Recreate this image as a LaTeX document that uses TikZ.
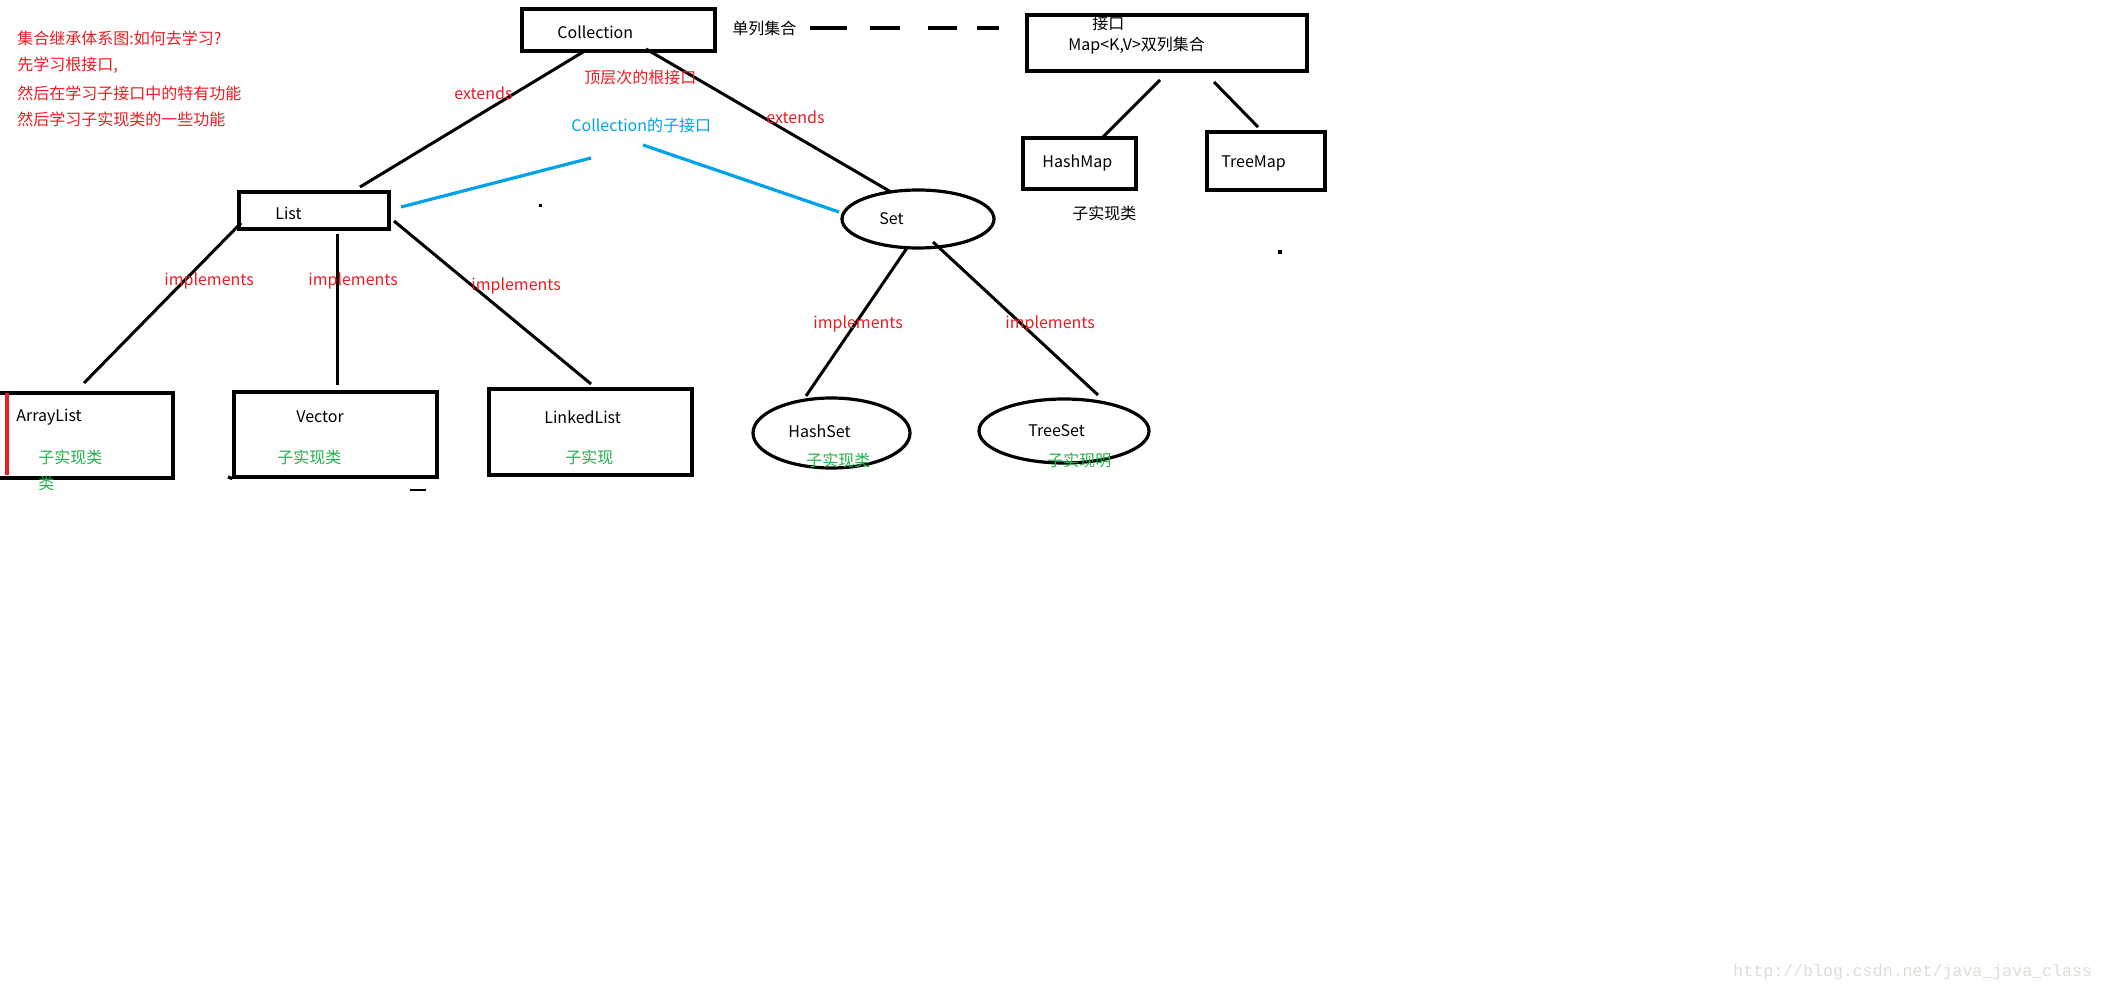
\documentclass[tikz,border=0pt]{standalone}
\usepackage{fontspec}
\setmainfont{Noto Sans CJK SC}
\newfontfamily\wmfont{Liberation Mono}
\usetikzlibrary{shapes.geometric,fit}
\definecolor{pred}{RGB}{237,28,36}
\definecolor{pblue}{RGB}{0,162,232}
\definecolor{pgreen}{RGB}{34,177,76}
\definecolor{wmgrey}{RGB}{222,220,214}
\begin{document}
\begin{tikzpicture}[x=0.5pt,y=-0.5pt,
  boxst/.style={draw=black,line width=1.6pt,rectangle,inner sep=0pt},
  ellst/.style={draw=black,line width=1.6pt,ellipse,inner sep=0pt},
  conn/.style={draw=black,line width=1.5pt},
  bconn/.style={draw=pblue,line width=1.6pt},
  lbl/.style={anchor=west,inner sep=0pt,font=\fontsize{8pt}{10pt}\selectfont},
  rtxt/.style={lbl,text=pred},
  gtxt/.style={lbl,text=pgreen},
  btxt/.style={lbl,text=pblue}]
\useasboundingbox[fill=white] (0,0) rectangle (2104,984);

% boxes
\node[boxst,fit={(522,9)(715,51)}] (coll) {};
\node[boxst,fit={(1027,15)(1307,71)}] (map) {};
\node[boxst,fit={(1023,138)(1136,189)}] (hashmap) {};
\node[boxst,fit={(1207,132)(1325,190)}] (treemap) {};
\node[boxst,fit={(239,192)(389,229)}] (list) {};
\node[boxst,fit={(234,392)(437,477)}] (vector) {};
\node[boxst,fit={(489,389)(692,475)}] (linked) {};
\node[ellst,minimum width=76pt,minimum height=29pt] (set) at (918,219) {};
\node[ellst,minimum width=78.5pt,minimum height=35pt] (hashset) at (831.5,433) {};
\node[ellst,minimum width=85pt,minimum height=32pt] (treeset) at (1064,431) {};

% ArrayList box (left edge off canvas)
\coordinate (alTL) at (0,393);
\coordinate (alBL) at (0,478);
\draw[line width=1.6pt] (alTL) -- (173,393) -- (173,478) -- (alBL);
\draw[draw=pred,line width=1.6pt] (7,393) -- (7,475);
% Vector bottom extension
\draw[line width=1.6pt] (228,477) -- (vector.south west);

% connector end points
\coordinate (c1a) at (583,52);  \coordinate (c1b) at (360,187);
\coordinate (c2a) at (646,49);  \coordinate (c2b) at (891,192);
\coordinate (b1a) at (591,158); \coordinate (b1b) at (401,207);
\coordinate (b2a) at (643,145); \coordinate (b2b) at (839,212);
\coordinate (l1a) at (241,223); \coordinate (l1b) at (84,383);
\coordinate (l2a) at (337,234); \coordinate (l2b) at (337,385);
\coordinate (l3a) at (394,221); \coordinate (l3b) at (591,384);
\coordinate (s1a) at (907,248); \coordinate (s1b) at (806,396);
\coordinate (s2a) at (933,242); \coordinate (s2b) at (1098,395);
\coordinate (m1a) at (1160,80); \coordinate (m1b) at (1103,137);
\coordinate (m2a) at (1214,82); \coordinate (m2b) at (1258,127);
\coordinate (dA) at (810,28);   \coordinate (dB) at (999,28);

\draw[conn] (c1a) -- (c1b);
\draw[conn] (c2a) -- (c2b);
\draw[bconn] (b1a) -- (b1b);
\draw[bconn] (b2a) -- (b2b);
\draw[conn] (l1a) -- (l1b);
\draw[conn] (l2a) -- (l2b);
\draw[conn] (l3a) -- (l3b);
\draw[conn] (s1a) -- (s1b);
\draw[conn] (s2a) -- (s2b);
\draw[conn] (m1a) -- (m1b);
\draw[conn] (m2a) -- (m2b);
\draw[line width=1.7pt,dash pattern=on 18.5pt off 11.5pt on 15pt off 14pt on 14.5pt off 10pt on 11pt off 10pt] (dA) -- (dB);

% stray marks
\fill (538.5,204.5) rectangle (541.5,207.5);
\fill (1278,250) rectangle (1282,254);
\draw[line width=0.8pt] (410,490) -- (426,490);

% texts
\node[rtxt] (t1) at (17,38) {集合继承体系图:如何去学习?};
\node[rtxt] (t2) at (17,65) {先学习根接口,};
\node[rtxt] (t3) at (17,93) {然后在学习子接口中的特有功能};
\node[rtxt] (t4) at (17,119) {然后学习子实现类的一些功能};

\node[lbl] (tcoll) at (557,32) {Collection};
\node[lbl] (tsingle) at (732,28) {单列集合};
\node[rtxt] (ext1) at (454,93) {extends};
\node[rtxt] (top) at (584,77) {顶层次的根接口};
\node[btxt] (sub) at (571,125) {Collection的子接口};
\node[rtxt] (ext2) at (766,117) {extends};
\node[lbl] (tif) at (1092,23) {接口};
\node[lbl] (tmap) at (1068,46) {Map<K,V>双列集合};
\node[lbl] (thm) at (1042,163) {HashMap};
\node[lbl] (ttm) at (1221,163) {TreeMap};
\node[lbl] (tsub) at (1072,213) {子实现类};
\node[lbl] (tlist) at (275,213) {List};
\node[lbl] (tset) at (879,219) {Set};
\node[rtxt] (i1) at (164,281) {implements};
\node[rtxt] (i2) at (308,281) {implements};
\node[rtxt] (i3) at (471,286) {implements};
\node[rtxt] (i4) at (813,324) {implements};
\node[rtxt] (i5) at (1005,324) {implements};
\node[lbl] (tal) at (16,417) {ArrayList};
\node[gtxt] (gal) at (38,457) {子实现类};
\node[gtxt] (gal2) at (38,483) {类};
\node[lbl] (tvec) at (296,417) {Vector};
\node[gtxt] (gvec) at (277,457) {子实现类};
\node[lbl] (tll) at (544,417) {LinkedList};
\node[gtxt] (gll) at (565,457) {子实现};
\node[lbl] (ths) at (788,431) {HashSet};
\node[gtxt] (ghs) at (806,460) {子实现类};
\node[lbl] (tts) at (1028,431) {TreeSet};
\node[gtxt] (gts) at (1047,460) {子实现明};

\node[anchor=west,inner sep=0pt,text=wmgrey,font=\wmfont\fontsize{8.3pt}{10pt}\selectfont] (wm) at (1733,972) {http://blog.csdn.net/java\_java\_class};
\end{tikzpicture}
\end{document}
